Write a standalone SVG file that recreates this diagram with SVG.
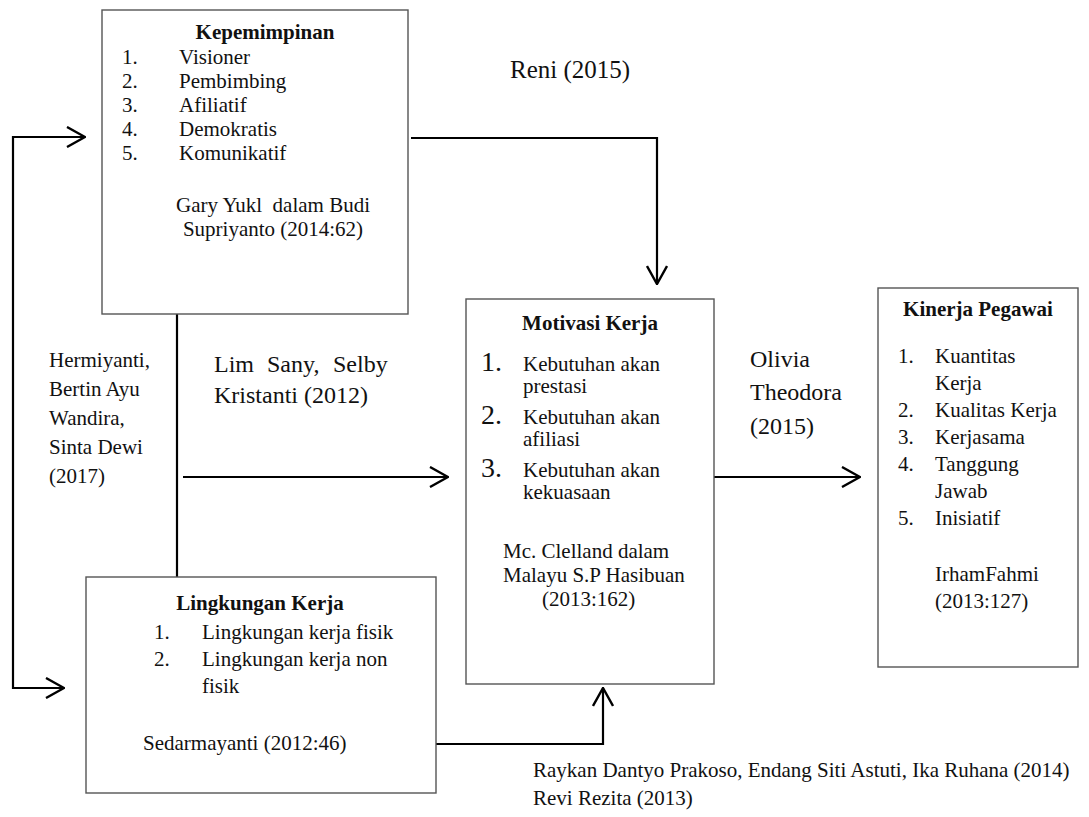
<svg xmlns="http://www.w3.org/2000/svg" width="1089" height="817" viewBox="0 0 1089 817">
<style>
text{font-family:"Liberation Serif","Times New Roman",serif;font-size:21px;fill:#111}
.b{font-weight:bold}
.m{text-anchor:middle}
.l{font-size:24px}
.n{font-size:28px}
.box{fill:#fff;stroke:#555;stroke-width:1.4}
.c{fill:none;stroke:#000;stroke-width:2.2}
</style>
<defs>
<marker id="ah" markerUnits="userSpaceOnUse" viewBox="0 0 20 22" refX="19" refY="11" markerWidth="20" markerHeight="22" orient="auto">
<path d="M1,1 L19,11 L1,21" fill="none" stroke="#000" stroke-width="2.4"/>
</marker>
</defs>
<rect width="1089" height="817" fill="#fff"/>
<g id="connectors">
<path class="c" d="M411,138 H657 V284" marker-end="url(#ah)"/>
<path class="c" d="M177,314 V577"/>
<path class="c" d="M183,477 H448" marker-end="url(#ah)"/>
<path class="c" d="M714,477 H860" marker-end="url(#ah)"/>
<path class="c" d="M85,137 H13 V688 H64" marker-end="url(#ah)"/>
<path class="c" d="M13,137 H85" marker-end="url(#ah)"/>
<path class="c" d="M436,744 H603 V688" marker-end="url(#ah)"/>
</g>
<g id="kepemimpinan">
<rect class="box" x="102" y="10" width="306" height="304"/>
<text class="b m" x="265" y="39">Kepemimpinan</text>
<text x="122" y="64">1.</text><text x="179" y="64">Visioner</text>
<text x="122" y="88">2.</text><text x="179" y="88">Pembimbing</text>
<text x="122" y="112">3.</text><text x="179" y="112">Afiliatif</text>
<text x="122" y="136">4.</text><text x="179" y="136">Demokratis</text>
<text x="122" y="160">5.</text><text x="179" y="160">Komunikatif</text>
<text x="176" y="212" xml:space="preserve">Gary Yukl  dalam Budi</text>
<text class="m" x="273" y="236">Supriyanto (2014:62)</text>
</g>
<g id="motivasi">
<rect class="box" x="466" y="299" width="248" height="385"/>
<text class="b m" x="590" y="330">Motivasi Kerja</text>
<text class="n" x="481" y="371">1.</text><text x="523" y="371">Kebutuhan akan</text>
<text x="523" y="393">prestasi</text>
<text class="n" x="481" y="424">2.</text><text x="523" y="424">Kebutuhan akan</text>
<text x="523" y="446">afiliasi</text>
<text class="n" x="481" y="477">3.</text><text x="523" y="477">Kebutuhan akan</text>
<text x="523" y="499">kekuasaan</text>
<text x="503" y="558">Mc. Clelland dalam</text>
<text x="503" y="582">Malayu S.P Hasibuan</text>
<text x="542" y="606">(2013:162)</text>
</g>
<g id="kinerja">
<rect class="box" x="878" y="288" width="200" height="379"/>
<text class="b m" x="978" y="316">Kinerja Pegawai</text>
<text x="898" y="363">1.</text><text x="935" y="363">Kuantitas</text>
<text x="935" y="390">Kerja</text>
<text x="898" y="417">2.</text><text x="935" y="417">Kualitas Kerja</text>
<text x="898" y="444">3.</text><text x="935" y="444">Kerjasama</text>
<text x="898" y="471">4.</text><text x="935" y="471">Tanggung</text>
<text x="935" y="498">Jawab</text>
<text x="898" y="525">5.</text><text x="935" y="525">Inisiatif</text>
<text x="935" y="581">IrhamFahmi</text>
<text x="935" y="608">(2013:127)</text>
</g>
<g id="lingkungan">
<rect class="box" x="86" y="577" width="350" height="216"/>
<text class="b m" x="260" y="610">Lingkungan Kerja</text>
<text x="154" y="639">1.</text><text x="202" y="639">Lingkungan kerja fisik</text>
<text x="154" y="666">2.</text><text x="202" y="666">Lingkungan kerja non</text>
<text x="202" y="693">fisik</text>
<text x="143" y="750">Sedarmayanti (2012:46)</text>
</g>
<g id="labels">
<text x="510" y="78" style="font-size:25px">Reni (2015)</text>
<text class="l" x="214" y="372">Lim</text><text class="l" x="267" y="372">Sany,</text><text class="l" x="333" y="372">Selby</text>
<text class="l" x="214" y="403">Kristanti (2012)</text>
<text x="49" y="367">Hermiyanti,</text>
<text x="49" y="396">Bertin Ayu</text>
<text x="49" y="425">Wandira,</text>
<text x="49" y="454">Sinta Dewi</text>
<text x="49" y="483">(2017)</text>
<text class="l" x="750" y="367">Olivia</text>
<text class="l" x="750" y="400">Theodora</text>
<text class="l" x="750" y="434">(2015)</text>
<text x="533" y="777">Raykan Dantyo Prakoso, Endang Siti Astuti, Ika Ruhana (2014)</text>
<text x="533" y="805">Revi Rezita (2013)</text>
</g>
</svg>
